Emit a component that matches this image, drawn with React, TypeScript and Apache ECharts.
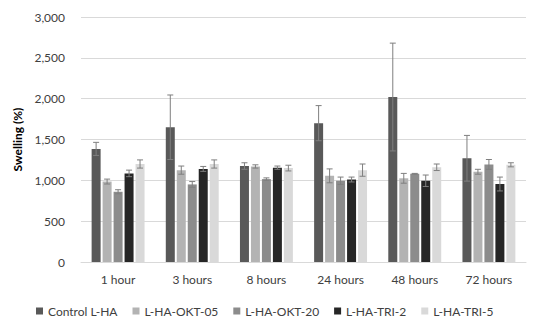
import React, { useEffect, useRef } from "react";
import * as echarts from "echarts";

const categories = ["1 hour", "3 hours", "8 hours", "24 hours", "48 hours", "72 hours"];
const seriesNames = ["Control L-HA", "L-HA-OKT-05", "L-HA-OKT-20", "L-HA-TRI-2", "L-HA-TRI-5"];
const colors = ["#595959", "#b3b3b3", "#8c8c8c", "#262626", "#d9d9d9"];

const controlMeans = [1385, 1650, 1175, 1700, 2020, 1270];
const controlErr = [80, 395, 40, 215, 660, 280];
const okt05Means = [985, 1125, 1170, 1055, 1025, 1105];
const okt05Err = [30, 50, 20, 85, 60, 30];
const okt20Means = [860, 950, 1015, 995, 1080, 1195];
const okt20Err = [25, 35, 15, 45, 5, 60];
const tri2Means = [1085, 1140, 1155, 1010, 995, 955];
const tri2Err = [40, 30, 20, 30, 70, 85];
const tri5Means = [1200, 1200, 1150, 1125, 1160, 1190];
const tri5Err = [50, 50, 35, 75, 40, 25];

const yTicks = [0, 500, 1000, 1500, 2000, 2500, 3000];

const means = [controlMeans, okt05Means, okt20Means, tri2Means, tri5Means];
const errs = [controlErr, okt05Err, okt20Err, tri2Err, tri5Err];

const BAR_W = 9;
const GAP = 0.22;

export default function App() {
  const ref = useRef<HTMLDivElement>(null);
  useEffect(() => {
    document.body.style.margin = "0";
    if (!ref.current) return;
    const chart = echarts.init(ref.current, null, { renderer: "svg" });
    const font = "Lato, 'Open Sans', sans-serif";
    const barSeries = seriesNames.map((name, i) => ({
      name,
      type: "bar",
      data: means[i],
      barWidth: BAR_W,
      barGap: GAP * 100 + "%",
      itemStyle: { color: colors[i] },
      z: 2,
    }));
    const errSeries = seriesNames.map((name, i) => ({
      name: name + "-err",
      type: "custom",
      data: means[i].map((m, j) => [j, m - errs[i][j], m + errs[i][j]]),
      z: 3,
      silent: true,
      renderItem: (params: any, api: any) => {
        const x = api.value(0);
        const lo = api.coord([x, api.value(1)]);
        const hi = api.coord([x, api.value(2)]);
        const offset = (i - 2) * BAR_W * (1 + GAP);
        const cx = lo[0] + offset;
        const cap = 3;
        const style = { stroke: "#7f7f7f", lineWidth: 1 };
        return {
          type: "group",
          children: [
            { type: "line", shape: { x1: cx, y1: lo[1], x2: cx, y2: hi[1] }, style },
            { type: "line", shape: { x1: cx - cap, y1: hi[1], x2: cx + cap, y2: hi[1] }, style },
            { type: "line", shape: { x1: cx - cap, y1: lo[1], x2: cx + cap, y2: lo[1] }, style },
          ],
        };
      },
    }));
    chart.setOption({
      animation: false,
      backgroundColor: "#ffffff",
      grid: { left: 81, right: 28, top: 17, bottom: 63 },
      legend: {
        data: seriesNames,
        bottom: 3,
        left: 31,
        itemWidth: 7,
        itemHeight: 7,
        itemGap: 15,
        icon: "rect",
        textStyle: { fontFamily: font, fontSize: 12, color: "#404040" },
      },
      xAxis: {
        type: "category",
        data: categories,
        axisLine: { lineStyle: { color: "#d9d9d9" } },
        axisTick: { show: false },
        axisLabel: { fontFamily: font, fontSize: 12, color: "#404040", margin: 11 },
      },
      yAxis: {
        type: "value",
        min: 0,
        max: 3000,
        interval: 500,
        name: "Swelling (%)",
        nameLocation: "middle",
        nameGap: 48,
        nameTextStyle: { fontFamily: font, fontSize: 12, fontWeight: "bold", color: "#000" },
        axisLine: { show: false },
        axisTick: { show: false },
        splitLine: { lineStyle: { color: "#d9d9d9" } },
        axisLabel: {
          fontFamily: font,
          fontSize: 12,
          color: "#404040",
          margin: 16,
          formatter: (v: number) => (yTicks.includes(v) ? v.toLocaleString("en-US") : ""),
        },
      },
      series: [...barSeries, ...errSeries],
    });
    return () => chart.dispose();
  }, []);
  return <div ref={ref} style={{ width: 554, height: 325 }} />;
}
